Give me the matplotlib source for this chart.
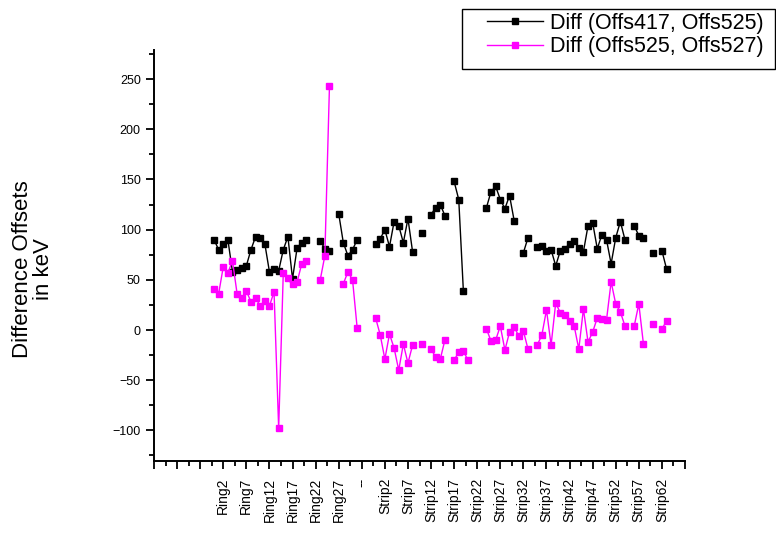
import numpy as np
import matplotlib
matplotlib.use("Agg")
import matplotlib.pyplot as plt
from matplotlib.ticker import MultipleLocator, FixedLocator
from matplotlib.patches import Rectangle

plt.rcParams['font.family'] = ['Liberation Sans', 'DejaVu Sans']

# Category axis: empty slots, 32 rings, separator rows, 64 strips
ring_names = [f"Ring{i}" for i in range(32)]
strip_names = [f"Strip{i}" for i in range(64)]
categories = [""] * 13 + ring_names + ["--"] * 3 + strip_names

nan = np.nan

# Diff (Offs417, Offs525)
black_rings = [90, 80, 86, 90, 58, 60, 62, 64, 80, 93, 92, 86, 58, 61, 59, 80,
               93, 51, 82, 87, 90, nan, nan, 89, 81, 79, nan, 116, 87, 74, 80, 90]
black_strips = [86, 91, 100, 83, 108, 104, 87, 111, 78, nan, 97, nan, 115, 122, 125, 114,
                nan, 148, 130, 39, nan, nan, nan, nan, 122, 138, 143, 130, 121, 134, 109, nan,
                77, 92, nan, 83, 84, 79, 80, 64, 79, 81, 86, 89, 82, 78, 104, 107,
                81, 95, 90, 66, 92, 108, 90, nan, 104, 94, 92, nan, 77, nan, 79, 61]

# Diff (Offs525, Offs527)
pink_rings = [41, 36, 63, 57, 69, 36, 32, 39, 28, 32, 24, 29, 24, 38, -98, 57,
              52, 46, 48, 66, 69, nan, nan, 50, 74, 243, nan, nan, 46, 58, 50, 2]
pink_strips = [12, -5, -29, -4, -18, -40, -14, -33, -15, nan, -14, nan, -19, -27, -29, -10,
               nan, -30, -22, -21, -30, nan, nan, nan, 1, -11, -10, 4, -20, -2, 3, -6,
               -1, -19, nan, -15, -5, 20, -15, 27, 17, 15, 9, 4, -19, 21, -12, -2,
               12, 11, 10, 48, 26, 18, 4, nan, 4, 26, -14, nan, 6, nan, 1, 9]

ring_x = categories.index("Ring0") + np.arange(len(ring_names))
sep_x = categories.index("--") + np.arange(3)
strip_x = categories.index("Strip0") + np.arange(len(strip_names))

x = np.concatenate([ring_x, sep_x, strip_x])
black = np.concatenate([black_rings, [nan] * 3, black_strips]).astype(float)
pink = np.concatenate([pink_rings, [nan] * 3, pink_strips]).astype(float)

fig = plt.figure(figsize=(7.76, 5.35), dpi=100)
ax = fig.add_axes([154 / 776, 74 / 535, 531 / 776, 411 / 535])

ax.plot(x, black, '-s', color='black', lw=1.0, ms=4.2, label='Diff (Offs417, Offs525)')
ax.plot(x, pink, '-s', color='#ff00ff', lw=1.0, ms=4.2, label='Diff (Offs525, Offs527)')

ax.set_xlim(0, 115)
ax.set_ylim(-130.5, 279)

for s in ['top', 'right']:
    ax.spines[s].set_visible(False)
for s in ['left', 'bottom']:
    ax.spines[s].set_linewidth(1.4)

ax.yaxis.set_major_locator(FixedLocator(np.arange(-100, 251, 50)))
ax.yaxis.set_minor_locator(MultipleLocator(25))

major_pos = np.arange(0, 116, 5)
ax.xaxis.set_major_locator(FixedLocator(major_pos))
ax.xaxis.set_minor_locator(FixedLocator(major_pos[:-1] + 2.5))
ax.set_xticklabels([categories[p] if p < len(categories) else "" for p in major_pos],
                   rotation=90, fontsize=10)

ax.tick_params(axis='both', which='major', direction='out', length=6, width=1.3)
ax.tick_params(axis='y', labelsize=9)
ax.tick_params(axis='x', pad=6)
ax.tick_params(axis='both', which='minor', direction='out', length=3.5, width=1.3)

fig.text(33 / 776, 1 - 269 / 535, 'Difference Offsets\nin keV', fontsize=16,
         rotation=90, ha='center', va='center', multialignment='center', linespacing=0.95)

leg = fig.legend(loc='upper right', bbox_to_anchor=(764 / 776, 1 - 13 / 535), fontsize=15.5,
                 numpoints=1, handlelength=2.6, handletextpad=0.33, frameon=False,
                 borderpad=0, labelspacing=0.1, borderaxespad=0)
fig.patches.append(Rectangle((462 / 776, 1 - 69 / 535), 313 / 776, 60 / 535,
                             transform=fig.transFigure, fill=False,
                             edgecolor='black', linewidth=1.0))

fig.savefig('out.png', dpi=100)
